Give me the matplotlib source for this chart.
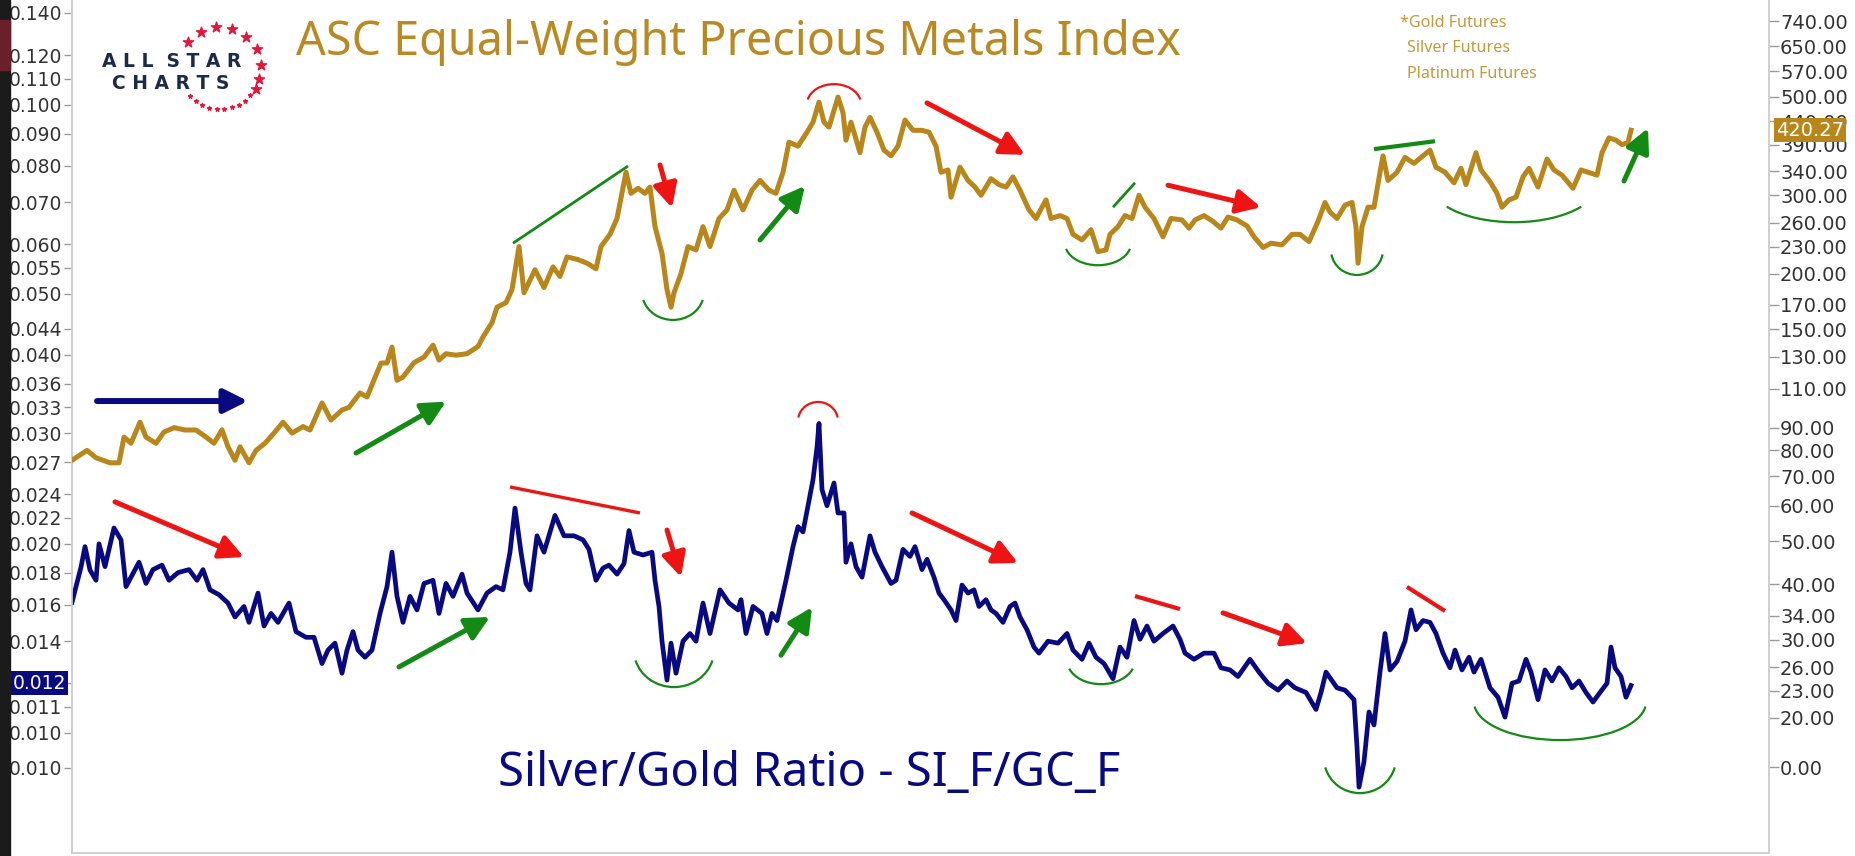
import numpy as np
import matplotlib
matplotlib.use('Agg')
import matplotlib.pyplot as plt
from matplotlib.patches import Arc, Rectangle
from matplotlib.ticker import NullLocator
from matplotlib.transforms import ScaledTranslation

plt.rcParams['font.family'] = ['DejaVu Sans']

# ---- data (t = bar number from the left edge) ----
gold_t = [0, 15, 24, 38, 47, 52, 59, 68, 74, 84, 92, 102, 113, 124, 134, 142, 150, 156, 163, 168,
          177, 184, 193, 202, 211, 220, 231, 238, 250, 259, 270, 277, 288, 295, 302, 309, 315, 320, 325, 331,
          342, 352, 361, 367, 374, 384, 395, 406, 411, 420, 425, 434, 440, 447, 452, 463, 472, 481, 488, 495,
          506, 515, 524, 529, 538, 545, 554, 559, 566, 573, 578, 583, 590, 595, 599, 602, 609, 616, 624, 631,
          638, 647, 655, 662, 671, 680, 688, 697, 704, 711, 717, 726, 735, 741, 747, 752, 757, 766, 771, 774,
          779, 788, 793, 798, 805, 812, 819, 826, 833, 841, 850, 857, 864, 869, 876, 879, 888, 896, 903, 909,
          919, 927, 934, 941, 948, 957, 964, 974, 979, 988, 995, 1001, 1010, 1019, 1026, 1034, 1038, 1046, 1053, 1060,
          1067, 1073, 1082, 1091, 1099, 1110, 1117, 1123, 1132, 1141, 1149, 1156, 1165, 1175, 1182, 1191, 1199, 1210, 1220, 1228,
          1237, 1246, 1253, 1258, 1265, 1273, 1280, 1284, 1286, 1290, 1296, 1302, 1308, 1311, 1316, 1325, 1333, 1342, 1349, 1358,
          1364, 1373, 1382, 1389, 1394, 1404, 1409, 1418, 1425, 1430, 1437, 1444, 1451, 1457, 1466, 1475, 1482, 1490, 1501, 1509,
          1516, 1525, 1530, 1537, 1544, 1550, 1556, 1559]
gold_val = [76, 80, 77, 75, 75, 85.7, 83, 92.6, 85.7, 83, 88, 90, 88.9, 88.9, 85.7, 83, 89, 81.5, 76, 81.5,
            75, 80, 83, 87.5, 92.6, 87.5, 90.5, 88.9, 102.3, 93.6, 98.6, 100, 107.7, 105.5, 115.2, 125.8, 125.8, 136.6, 115, 117,
            126, 129.7, 138, 127.7, 132, 131, 132, 137, 144, 155, 168, 172, 184, 230, 181, 204, 186, 207, 197, 218,
            215, 211, 205, 230, 245, 266, 338, 303, 311, 303, 313, 255, 222, 184, 168, 181, 200, 230, 226, 255,
            230, 266, 278, 308, 278, 308, 324, 308, 303, 338, 395, 387, 416, 438, 486, 438, 427, 499, 460, 399,
            438, 374, 427, 449, 416, 379, 368, 387, 443, 420, 420, 416, 387, 338, 342, 297, 347, 324, 313, 300,
            327, 317, 313, 330, 308, 278, 266, 293, 266, 270, 266, 245, 238, 251, 224, 226, 245, 255, 270, 266,
            300, 282, 266, 242, 266, 264, 253, 264, 270, 262, 253, 268, 264, 256, 242, 229, 234, 232, 245, 245,
            236, 262, 289, 275, 266, 285, 289, 255, 211, 255, 282, 282, 338, 368, 324, 338, 365, 354, 365, 379,
            347, 338, 320, 345, 317, 374, 342, 322, 303, 282, 293, 297, 330, 345, 313, 362, 342, 333, 311, 342,
            338, 333, 374, 404, 399, 390, 394, 420.27]

ratio_t = [0, 9, 13, 18, 24, 27, 33, 42, 49, 54, 59, 67, 74, 81, 90, 97, 106, 117, 125, 131,
           138, 147, 156, 163, 172, 177, 186, 192, 199, 206, 217, 224, 234, 242, 250, 256, 263, 270, 275, 281,
           286, 293, 300, 308, 315, 320, 325, 331, 338, 345, 352, 361, 367, 374, 381, 390, 395, 406, 415, 424,
           431, 438, 443, 449, 454, 458, 465, 472, 483, 492, 502, 511, 517, 524, 531, 537, 545, 552, 557, 562,
           571, 580, 583, 587, 590, 595, 599, 604, 611, 618, 624, 631, 638, 648, 657, 666, 669, 674, 681, 690,
           695, 700, 705, 714, 721, 726, 731, 736, 741, 745, 747, 750, 755, 762, 766, 772, 774, 779, 784, 790,
           798, 803, 810, 819, 824, 831, 838, 843, 850, 855, 862, 867, 872, 879, 884, 890, 896, 902, 907, 914,
           919, 924, 931, 938, 943, 948, 955, 962, 967, 976, 986, 995, 1001, 1010, 1017, 1024, 1032, 1041, 1048, 1055,
           1062, 1068, 1075, 1082, 1091, 1101, 1108, 1113, 1122, 1132, 1142, 1149, 1158, 1166, 1178, 1187, 1196, 1206, 1215, 1223,
           1234, 1244, 1249, 1254, 1265, 1273, 1282, 1285, 1287, 1292, 1297, 1302, 1308, 1313, 1318, 1325, 1333, 1339, 1344, 1351,
           1358, 1364, 1371, 1378, 1383, 1390, 1397, 1402, 1409, 1418, 1426, 1433, 1440, 1447, 1454, 1459, 1466, 1473, 1480, 1487,
           1494, 1500, 1507, 1514, 1521, 1528, 1535, 1539, 1543, 1549, 1554, 1559]
ratio_val = [0.01614, 0.01837, 0.0198, 0.01817, 0.0175, 0.0200, 0.0184, 0.0212, 0.0203, 0.0171, 0.0177, 0.0187, 0.0173, 0.0182, 0.0185, 0.0175, 0.0180, 0.0182, 0.0175, 0.0182,
             0.0169, 0.0166, 0.0161, 0.0153, 0.0159, 0.0150, 0.0167, 0.0148, 0.0155, 0.0150, 0.0161, 0.0145, 0.0142, 0.0142, 0.0129, 0.01355, 0.0139, 0.01245, 0.01355, 0.0145,
             0.01355, 0.0132, 0.01355, 0.0155, 0.0171, 0.0194, 0.0165, 0.0150, 0.0165, 0.0157, 0.0173, 0.0175, 0.0155, 0.0173, 0.0165, 0.0179, 0.0167, 0.0157, 0.0167, 0.0171,
             0.0169, 0.0194, 0.0228, 0.0194, 0.0173, 0.0169, 0.0206, 0.0194, 0.0222, 0.0206, 0.0206, 0.0203, 0.0196, 0.0175, 0.0183, 0.0185, 0.0179, 0.0186, 0.0210, 0.0194,
             0.0192, 0.0194, 0.0175, 0.0159, 0.0140, 0.01214, 0.0139, 0.01245, 0.0140, 0.0144, 0.0140, 0.0161, 0.0144, 0.0169, 0.0161, 0.0157, 0.0163, 0.0144, 0.0159, 0.0155,
             0.0144, 0.0155, 0.0151, 0.0175, 0.0198, 0.0213, 0.0209, 0.0230, 0.0253, 0.0285, 0.0311, 0.0244, 0.0230, 0.0250, 0.0224, 0.0224, 0.0187, 0.0200, 0.0184, 0.0177,
             0.0206, 0.0194, 0.0184, 0.0173, 0.0175, 0.0196, 0.0191, 0.0198, 0.0182, 0.0189, 0.0177, 0.0167, 0.0163, 0.0157, 0.0151, 0.0172, 0.0167, 0.0169, 0.0159, 0.0163,
             0.0157, 0.0155, 0.0150, 0.0159, 0.0161, 0.0153, 0.0146, 0.0137, 0.0134, 0.0140, 0.0139, 0.0144, 0.01355, 0.0131, 0.0139, 0.0132, 0.0129, 0.0122, 0.0137, 0.0132,
             0.0151, 0.0141, 0.0148, 0.0140, 0.0144, 0.0148, 0.0141, 0.0134, 0.0131, 0.0134, 0.0134, 0.0127, 0.0126, 0.0123, 0.0131, 0.0125, 0.0120, 0.0117, 0.0121, 0.0118,
             0.0116, 0.0109, 0.0116, 0.0125, 0.0118, 0.0117, 0.0113, 0.0095, 0.0082, 0.0090, 0.0108, 0.0103, 0.0125, 0.0144, 0.0126, 0.0130, 0.0140, 0.0157, 0.0146, 0.0151,
             0.0150, 0.0144, 0.0134, 0.0127, 0.01355, 0.0126, 0.0132, 0.0125, 0.0131, 0.0118, 0.0114, 0.0106, 0.0120, 0.0121, 0.0131, 0.0125, 0.0113, 0.0126, 0.0121, 0.0127,
             0.0123, 0.0118, 0.0121, 0.0116, 0.0112, 0.0116, 0.0120, 0.0137, 0.0127, 0.0123, 0.0114, 0.0119]

left_ticks = [0.140, 0.120, 0.110, 0.100, 0.090, 0.080, 0.070, 0.060, 0.055, 0.050, 0.044, 0.040, 0.036,
              0.033, 0.030, 0.027, 0.024, 0.022, 0.020, 0.018, 0.016, 0.014, 0.012, 0.011, 0.010, 0.0088]
left_labels = ['0.140', '0.120', '0.110', '0.100', '0.090', '0.080', '0.070', '0.060', '0.055', '0.050', '0.044',
               '0.040', '0.036', '0.033', '0.030', '0.027', '0.024', '0.022', '0.020', '0.018', '0.016', '0.014',
               '0.012', '0.011', '0.010', '0.010']
right_ticks = [740, 650, 570, 500, 440, 390, 340, 300, 260, 230, 200, 170, 150, 130, 110, 90, 80, 70, 60,
               50, 40, 34, 30, 26, 23, 20, 15.5]
right_labels = ['%.2f' % v for v in right_ticks[:-1]] + ['0.00']

last_gold = 420.27
last_ratio = 0.012

GOLD = '#B8861B'
NAVY = '#0A0A80'
RED = '#EE1414'
GREEN = '#138A13'

W, H = 1855, 856
fig = plt.figure(figsize=(W / 100, H / 100), dpi=100)
ax = fig.add_axes([72 / W, 3 / H, (1769 - 72) / W, 853 / H])
ax2 = ax.twinx()

ax.plot(ratio_t, ratio_val, color=NAVY, lw=3.4, solid_joinstyle='round', zorder=3)
ax2.plot(gold_t, gold_val, color=GOLD, lw=3.6, solid_joinstyle='round', zorder=3)

ax.set_yscale('log')
ax2.set_yscale('log')

# ---- annotations ----
def arrow(a, t0, v0, t1, v1, color, lw=3.6):
    a.annotate('', xy=(t1, v1), xytext=(t0, v0),
               arrowprops=dict(arrowstyle='-|>,head_length=1.1,head_width=0.55', color=color,
                               lw=lw, mutation_scale=13, shrinkA=0, shrinkB=0))

def seg(a, t0, v0, t1, v1, color, lw=2.2):
    a.plot([t0, t1], [v0, v1], color=color, lw=lw, solid_capstyle='butt')

def arc(a, t, v, w, h, a1, a2, color, lw=1.6):
    tr = fig.dpi_scale_trans + ScaledTranslation(t, v, a.transData)
    a.add_patch(Arc((0, 0), w / 100, h / 100, theta1=a1, theta2=a2, transform=tr,
                    color=color, lw=lw, clip_on=False))

# on the index
arrow(ax2, 25, 103.3, 176, 103.3, NAVY, lw=4.3)
arrow(ax2, 284, 78.9, 374, 103, GREEN)
seg(ax2, 441, 234, 556, 349, GREEN, lw=2.0)
arrow(ax2, 588, 351, 600, 281, RED)
arc(ax2, 601, 181.8, 62, 56, 195, 345, GREEN)
arrow(ax2, 688, 238, 733, 315, GREEN)
arc(ax2, 762, 481, 54, 40, 10, 170, RED)
arrow(ax2, 855, 484, 953, 370, RED)
arc(ax2, 1026, 234, 66, 44, 190, 350, GREEN)
seg(ax2, 1041, 282, 1063, 320, GREEN, lw=2.0)
arrow(ax2, 1096, 316, 1189, 282, RED)
arc(ax2, 1285, 226, 52, 50, 190, 350, GREEN)
seg(ax2, 1302, 381, 1363, 397, GREEN, lw=3.0)
arc(ax2, 1442, 321, 170, 80, 200, 340, GREEN)
arrow(ax2, 1552, 323, 1576, 425, GREEN)

# on the ratio
arrow(ax, 43, 0.02333, 172, 0.01906, RED)
arrow(ax, 327, 0.01274, 418, 0.0153, GREEN)
seg(ax, 438, 0.02464, 568, 0.0224, RED, lw=2.4)
arrow(ax, 595, 0.02104, 609, 0.01771, RED)
arc(ax, 602, 0.01355, 80, 74, 195, 345, GREEN)
arrow(ax, 709, 0.0133, 740, 0.01586, GREEN)
arc(ax, 746, 0.03138, 40, 38, 10, 170, RED)
arrow(ax, 840, 0.0224, 946, 0.01865, RED)
arc(ax, 1029, 0.01306, 68, 48, 195, 345, GREEN)
seg(ax, 1063, 0.01652, 1108, 0.01575, RED, lw=3.0)
arrow(ax, 1151, 0.01553, 1235, 0.0139, RED)
arc(ax, 1288, 0.00912, 72, 70, 195, 345, GREEN)
seg(ax, 1335, 0.01708, 1373, 0.01564, RED, lw=3.0)
arc(ax, 1488, 0.0112, 172, 76, 183, 357, GREEN)

# ---- axes ----
ax.set_xlim(0, 1697)
ax.set_ylim(0.006441, 0.14683)
ax2.set_ylim(9.934, 825.1)

ax.set_yticks(left_ticks, left_labels)
ax.yaxis.set_minor_locator(NullLocator())
ax2.set_yticks(right_ticks, right_labels)
ax2.yaxis.set_minor_locator(NullLocator())

ax.tick_params(axis='y', direction='out', length=6, width=1, color='#9a9a9a',
               labelsize=13.5, labelcolor='#333333', pad=1)
ax2.tick_params(axis='y', direction='out', length=7, width=1, color='#9a9a9a',
                labelsize=14, labelcolor='#333333', pad=1)
for a in (ax, ax2):
    a.tick_params(axis='x', bottom=False, labelbottom=False)
    a.spines['top'].set_visible(False)
    for s in ('left', 'right', 'bottom'):
        a.spines[s].set_color('#d0d0d0')
        a.spines[s].set_linewidth(1.2)

# last-value badges
ax2.text(1.0 + 7 / 1697, last_gold, '%.2f' % last_gold, transform=ax2.get_yaxis_transform(),
         ha='left', va='center', color='white', fontsize=14,
         bbox=dict(boxstyle='square,pad=0.12', fc=GOLD, ec='none'), zorder=5, clip_on=False)
ax.text(-6 / 1697, last_ratio, '%.3f' % last_ratio, transform=ax.get_yaxis_transform(),
        ha='right', va='center', color='white', fontsize=13.5,
        bbox=dict(boxstyle='square,pad=0.12', fc=NAVY, ec='none'), zorder=5, clip_on=False)

# ---- titles and labels ----
fig.text(296 / W, 1 - 55 / H, 'ASC Equal-Weight Precious Metals Index', fontsize=33.6,
         color='#B98A24', family='Noto Sans', va='baseline')
fig.text(498 / W, 1 - 786 / H, 'Silver/Gold Ratio - SI_F/GC_F', fontsize=34,
         color=NAVY, family='Noto Sans', va='baseline')
fig.text(1400 / W, 1 - 27 / H, '*Gold Futures', fontsize=11.6, color='#C39A3C',
         family='Noto Sans', va='baseline')
fig.text(1407 / W, 1 - 52 / H, 'Silver Futures', fontsize=11.6, color='#C39A3C',
         family='Noto Sans', va='baseline')
fig.text(1407 / W, 1 - 78 / H, 'Platinum Futures', fontsize=11.6, color='#C39A3C',
         family='Noto Sans', va='baseline')

# logo
fig.text(102 / W, 1 - 67 / H, 'A L L  S T A R', fontsize=13.5, fontweight='bold',
         color='#1D2B4B', family='DejaVu Sans', va='baseline')
fig.text(112 / W, 1 - 89 / H, 'C H A R T S', fontsize=13.5, fontweight='bold',
         color='#1D2B4B', family='DejaVu Sans', va='baseline')
big = np.radians([141, 118, 96, 73, 50, 27, 4, -16, -30])
small = np.radians(np.linspace(-42, -137, 10))
cx, cy, r = 220, 68, 41
for ang, sz in [(big, 60), (small, 9)]:
    xs = (cx + r * np.cos(ang)) / W
    ys = 1 - (cy - r * np.sin(ang)) / H
    ax.scatter(xs, ys, s=sz, marker='*', color='#E3173B', transform=fig.transFigure,
               clip_on=False, zorder=6)

# dark strip on the left edge of the screenshot
fig.add_artist(Rectangle((0, 0), 10 / W, 1, transform=fig.transFigure, color='#1b1b1b'))
fig.add_artist(Rectangle((0, 1 - 70 / H), 10 / W, 50 / H, transform=fig.transFigure, color='#6a1f2a'))

ax.set_xlim(0, 1697)
ax.set_ylim(0.006441, 0.14683)
ax2.set_ylim(9.934, 825.1)

fig.savefig('out.png', dpi=100)
